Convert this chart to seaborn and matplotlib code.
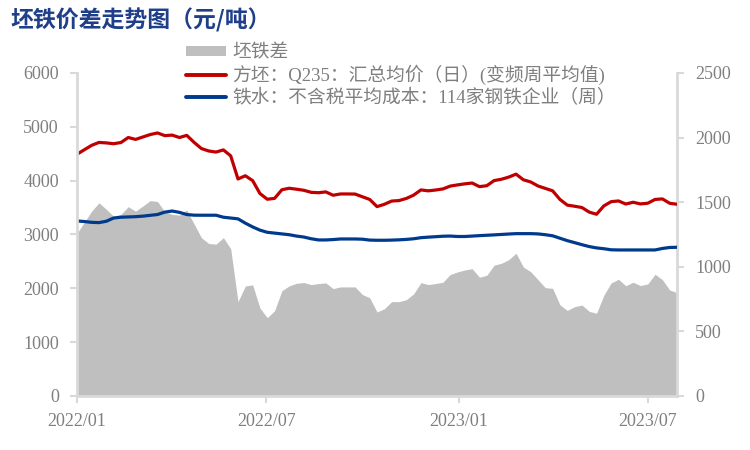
import numpy as np
import pandas as pd
import matplotlib
matplotlib.use("Agg")
import matplotlib.pyplot as plt
import matplotlib.dates as mdates
from matplotlib.patches import Patch
from matplotlib.lines import Line2D
import seaborn as sns

# ---- data (weekly) ----
start_date = "2022-01-01"
n_weeks = 83

billet_price = [4490, 4573, 4655, 4709, 4700, 4685, 4707, 4800, 4765, 4810,
                4855, 4885, 4835, 4845, 4800, 4840, 4710, 4595, 4550, 4530,
                4570, 4460, 4030, 4090, 4000, 3760, 3654, 3670, 3830, 3858,
                3840, 3820, 3782, 3775, 3790, 3728, 3752, 3752, 3750, 3700,
                3650, 3517, 3560, 3620, 3629, 3668, 3730, 3827, 3810, 3825,
                3845, 3898, 3920, 3940, 3955, 3888, 3905, 4000, 4025, 4065,
                4120, 4015, 3975, 3900, 3855, 3810, 3650, 3545, 3524, 3500,
                3415, 3375, 3530, 3609, 3622, 3565, 3598, 3567, 3580, 3650,
                3660, 3579, 3561]

iron_cost = [3251, 3240, 3225, 3220, 3245, 3305, 3320, 3325, 3330, 3340,
             3355, 3370, 3415, 3435, 3410, 3370, 3358, 3357, 3357, 3357,
             3320, 3305, 3290, 3210, 3140, 3080, 3040, 3025, 3010, 2995,
             2970, 2952, 2920, 2898, 2898, 2905, 2916, 2916, 2916, 2912,
             2895, 2892, 2892, 2895, 2900, 2908, 2920, 2940, 2950, 2958,
             2967, 2970, 2962, 2962, 2970, 2978, 2985, 2992, 3000, 3008,
             3015, 3015, 3015, 3010, 2995, 2975, 2930, 2885, 2848, 2810,
             2775, 2750, 2735, 2715, 2712, 2712, 2712, 2712, 2712, 2712,
             2740, 2758, 2762]

spread = [1259, 1345, 1430, 1495, 1445, 1390, 1405, 1465, 1430, 1470,
          1512, 1505, 1425, 1405, 1400, 1440, 1330, 1225, 1180, 1175,
          1225, 1140, 730, 851, 860, 680, 606, 660, 815, 852,
          872, 878, 862, 870, 875, 831, 844, 844, 844, 785,
          760, 650, 675, 730, 730, 745, 790, 877, 862, 870,
          880, 940, 960, 975, 985, 919, 934, 1012, 1027, 1055,
          1105, 998, 962, 900, 838, 833, 705, 662, 691, 704,
          655, 640, 780, 875, 903, 853, 880, 855, 867, 942,
          900, 820, 800]

label_spread = "坯铁差"
label_billet = "方坯：Q235：汇总均价（日）(变频周平均值)"
label_iron = "铁水：不含税平均成本：114家钢铁企业（周）"
title_text = "坯铁价差走势图（元/吨）"

left_ticks = [0, 1000, 2000, 3000, 4000, 5000, 6000]
right_ticks = [0, 500, 1000, 1500, 2000, 2500]
x_ticks = ["2022-01-01", "2022-07-01", "2023-01-01", "2023-07-01"]

# ---- style ----
sns.set_theme(style="white")
plt.rcParams["font.family"] = ["Liberation Serif", "Noto Sans CJK SC"]

C_RED = "#C00000"
C_BLUE = "#003A8C"
C_GRAY = "#BFBFBF"
C_TXT = "#7F7F7F"
C_AX = "#D9D9D9"

dates = pd.date_range(start_date, periods=n_weeks, freq="7D")
df = pd.DataFrame({"date": dates, "billet": billet_price,
                   "iron": iron_cost, "spread": spread})

fig = plt.figure(figsize=(7.5, 4.5), dpi=100)
ax = fig.add_axes([0.1027, 0.12, 0.80, 0.718])   # area, right scale
ax2 = ax.twinx()                                   # lines, left scale

# area on the main axis (drawn below)
ax.fill_between(df["date"], 0, df["spread"], color=C_GRAY, linewidth=0, zorder=1)
ax.set_ylim(0, 2500)
ax.set_yticks(right_ticks)
ax.yaxis.tick_right()

# lines on twin axis
sns.lineplot(data=df, x="date", y="billet", ax=ax2, color=C_RED, linewidth=2.3)
sns.lineplot(data=df, x="date", y="iron", ax=ax2, color=C_BLUE, linewidth=2.3)
ax2.set_ylim(0, 6000)
ax2.set_yticks(left_ticks)
ax2.yaxis.tick_left()
ax2.set_ylabel("")
ax2.set_xlabel("")
ax.set_xlabel("")

ax.set_xlim(dates[0], dates[-1])
ax.set_xticks(pd.to_datetime(x_ticks))
ax.xaxis.set_major_formatter(mdates.DateFormatter("%Y/%m"))

for a in (ax, ax2):
    for s in a.spines.values():
        s.set_visible(False)
ax.spines["bottom"].set_visible(True)
ax.spines["bottom"].set_color(C_AX)
ax.spines["bottom"].set_linewidth(2)
ax2.spines["left"].set_visible(True)
ax2.spines["left"].set_color(C_AX)
ax2.spines["left"].set_linewidth(2)
ax2.spines["right"].set_visible(True)
ax2.spines["right"].set_color(C_AX)
ax2.spines["right"].set_linewidth(2)
ax2.spines["right"].set_zorder(0)

ax.tick_params(axis="x", colors=C_AX, labelcolor=C_TXT, labelsize=13,
               length=5, width=1.5, direction="out", pad=7, bottom=True)
ax.tick_params(axis="y", colors=C_AX, labelcolor=C_TXT, labelsize=13,
               length=5, width=1.5, direction="out", pad=8, right=True, left=False)
ax2.tick_params(axis="y", colors=C_AX, labelcolor=C_TXT, labelsize=13,
                length=5, width=1.5, direction="out", pad=8, left=True, right=False)
ax.grid(False)
ax2.grid(False)

handles = [Patch(facecolor=C_GRAY, edgecolor="none"),
           Line2D([], [], color=C_RED, linewidth=2.8),
           Line2D([], [], color=C_BLUE, linewidth=2.8)]
fig.legend(handles, [label_spread, label_billet, label_iron],
           loc="upper left", bbox_to_anchor=(186 / 750, 1 - 44 / 450),
           frameon=False, fontsize=13.5, labelcolor=C_TXT,
           handlelength=2.15, handleheight=0.45, handletextpad=0.3,
           labelspacing=0.2, borderaxespad=0, borderpad=0)

fig.text(0.014, 1 - 20 / 450, title_text, color="#1F3F8A", fontsize=16.5,
         fontweight="bold", va="center", ha="left",
         family=["Noto Sans CJK SC", "DejaVu Sans"])

fig.savefig("out.png", dpi=100)
